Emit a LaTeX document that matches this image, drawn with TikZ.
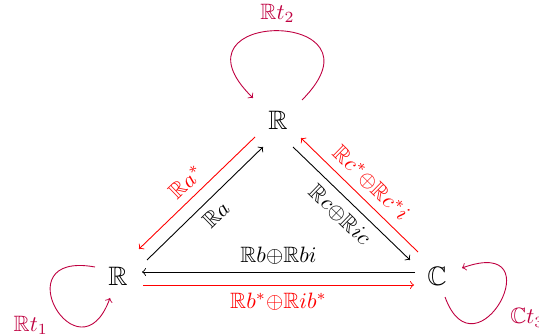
\documentclass[tikz,border=0pt]{standalone}
\usepackage{amsmath,amssymb}
\usetikzlibrary{calc}
\begin{document}
\begin{tikzpicture}[x=0.45pt,y=-0.45pt,
  blk/.style={->,black},
  rd/.style={->,red},
  lp/.style={->,purple},
  obj/.style={inner sep=2pt,font=\large}]
\useasboundingbox (0,0) rectangle (539,336);
\clip (0,0) rectangle (539,336);
\node[obj] (L) at (118,276) {$\mathbb{R}$};
\node[obj] (T) at (278,120) {$\mathbb{R}$};
\node[obj] (C) at (437,276) {$\mathbb{C}$};
% horizontal
\draw[blk] ([shift={(-22,-4)}]C.center) -- node[above]{$\mathbb{R}b{\oplus}\mathbb{R}bi$} ([shift={(24,-4)}]L.center);
\draw[rd] ([shift={(25,9)}]L.center) -- node[below]{$\mathbb{R}b^*{\oplus}\mathbb{R}ib^*$} ([shift={(-23,9)}]C.center);
% left diagonal
\draw[blk] ([shift={(29,-16)}]L.center) -- node[below,sloped]{$\mathbb{R}a$} ([shift={(-15,27)}]T.center);
\draw[rd] ([shift={(-23,17)}]T.center) -- node[above,sloped]{$\mathbb{R}a^*$} ([shift={(21,-27)}]L.center);
% right diagonal
\draw[blk] ([shift={(15,27)}]T.center) -- node[below,sloped]{$\mathbb{R}c{\oplus}\mathbb{R}ic$} ([shift={(-27,-16)}]C.center);
\draw[rd] ([shift={(-19,-24)}]C.center) -- node[above,sloped]{$\mathbb{R}c^*{\oplus}\mathbb{R}c^*i$} ([shift={(23,18)}]T.center);
% loops
\draw[lp] ([shift={(24,-20)}]T.center) .. controls +(92,-92) and +(-92,-90) .. node[pos=0.5,above]{$\mathbb{R}t_2$} ([shift={(-25,-22)}]T.center);
\draw[lp] ([shift={(-23,-9)}]L.center) .. controls +(-94,-17) and +(-31,85) .. node[pos=0.5,below left]{$\mathbb{R}t_1$} ([shift={(-8,22)}]L.center);
\draw[lp] ([shift={(8,21)}]C.center) .. controls +(31,85) and +(94,-34) .. node[pos=0.4,right,shift={(11,4)}]{$\mathbb{C}t_3$} ([shift={(25,-8)}]C.center);
\end{tikzpicture}
\end{document}
